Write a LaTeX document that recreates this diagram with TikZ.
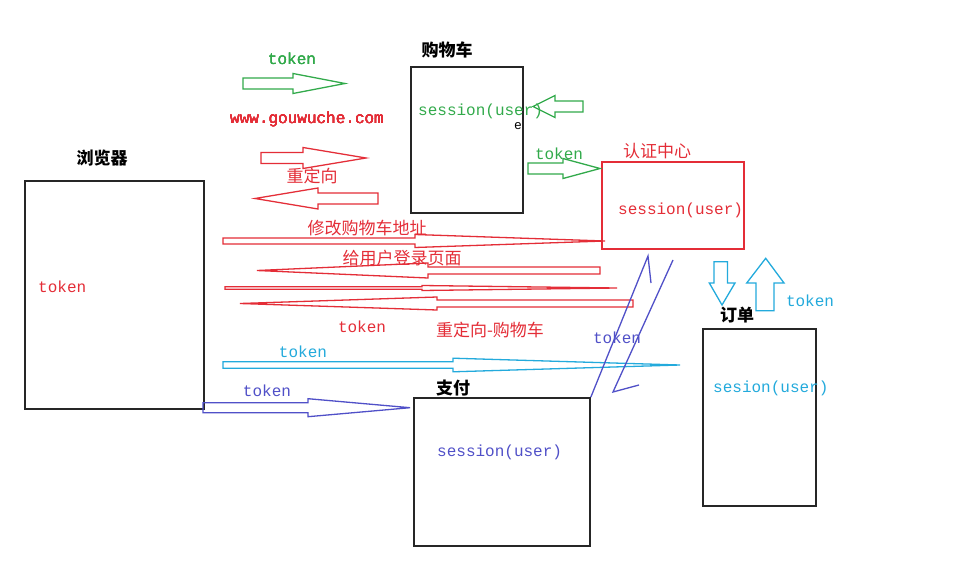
\documentclass[tikz,border=0pt]{standalone}
\usepackage{fontspec}
\setmonofont{Liberation Mono}
\newfontfamily\cjk{Noto Sans CJK SC}
\usetikzlibrary{positioning}

\definecolor{tkgreen}{RGB}{50,170,75}
\definecolor{tkred}{RGB}{228,45,55}
\definecolor{tkcyan}{RGB}{35,170,220}
\definecolor{tkpurple}{RGB}{80,80,200}

\tikzset{
    box/.style={draw=black!85, line width=1.6pt, inner sep=0pt},
    mono/.style={font=\ttfamily\fontsize{16}{18}\selectfont, inner sep=0pt},
    zh/.style={font=\cjk\fontsize{17}{20}\selectfont, inner sep=0pt},
    title/.style={font=\cjk\bfseries\fontsize{17}{20}\selectfont, inner sep=0pt},
    hollow/.style={line width=1.3pt, line join=miter}
}

% hollow block arrow: style, tail x, head base x, tip x, y, shaft half, head half
\newcommand{\flatarrow}[7]{%
    \draw[hollow,#1] (#2,#5-#6) -- (#3,#5-#6) -- (#3,#5-#7) -- (#4,#5)
        -- (#3,#5+#7) -- (#3,#5+#6) -- (#2,#5+#6) -- cycle;}

\begin{document}
\begin{tikzpicture}[x=1pt, y=-1pt]
    \useasboundingbox[fill=white] (0,0) rectangle (980,586);

    % Boxes
    \node[box, minimum width=179pt, minimum height=228pt] (browser) at (114.5,295) {};
    \node[box, minimum width=112pt, minimum height=146pt] (cart) at (467,140) {};
    \node[box, draw=tkred, line width=1.4pt, minimum width=142pt, minimum height=87pt] (auth) at (673,205.5) {};
    \node[box, minimum width=176pt, minimum height=148pt] (pay) at (502,472) {};
    \node[box, minimum width=113pt, minimum height=177pt] (order) at (759.5,417.5) {};

    % Box titles
    \node[title] (browsertitle) at (102,158) {浏览器};
    \node[title] (carttitle) at (447,50) {购物车};
    \node[zh, text=tkred] (authtitle) at (657,151) {认证中心};
    \node[title] (paytitle) at (453,388) {支付};
    \node[title] (ordertitle) at (737,315) {订单};

    % Texts inside the boxes
    \node[mono, text=tkred, anchor=west] (browsertoken) at (38,287) {token};
    \node[mono, text=tkgreen, anchor=west] (cartsession) at (418,111) {session(user)};
    \node[mono, text=tkred, anchor=west] (authsession) at (618,210) {session(user)};
    \node[mono, text=tkpurple, anchor=west] (paysession) at (437,452) {session(user)};
    \node[mono, text=tkcyan, anchor=west] (ordersession) at (713,388) {sesion(user)};
    \node[font=\ttfamily\fontsize{13}{13}\selectfont, inner sep=0pt] (cartmark) at (518,126) {e};

    % Green arrows
    \foreach \a/\b/\t/\y/\s/\h in {243/293/345/83.5/5.5/10, 583/555/533/106.5/5.5/11, 528/563/600/168.5/5.5/10}
        \flatarrow{tkgreen}{\a}{\b}{\t}{\y}{\s}{\h}
    \node[mono, text=tkgreen] (gtoken1) at (292,59) {token};
    \node[mono, text=tkgreen] (gtoken2) at (559,154) {token};

    % Red arrows
    \foreach \a/\b/\t/\y/\s/\h in {261/303/366/158/5.5/10.5, 378/318/255/198.5/5.5/10.5,
        223/415/605/241/3/6.5, 600/428/257/270.5/3.5/7.5, 225/422/617/288/1.2/2.5, 633/437/240/303.5/3.5/6.5}
        \flatarrow{tkred}{\a}{\b}{\t}{\y}{\s}{\h}
    \node[mono, text=tkred, anchor=west] (www) at (230,119) {www.gouwuche.com};
    \node[zh, text=tkred] (redirect) at (312,176) {重定向};
    \node[zh, text=tkred] (changeaddr) at (367,228) {修改购物车地址};
    \node[zh, text=tkred] (loginpage) at (402,258) {给用户登录页面};
    \node[mono, text=tkred] (rtoken) at (362,327) {token};
    \node[zh, text=tkred] (redirectcart) at (490,330) {重定向-购物车};

    % Cyan arrows
    \flatarrow{tkcyan}{223}{453}{680}{365}{3.3}{6.8}
    \draw[hollow, tkcyan] (714,261.7) -- (727.4,261.7) -- (727.4,283) -- (735,283) -- (722,305)
        -- (709.3,283) -- (714,283) -- cycle;
    \draw[hollow, tkcyan] (756,310.7) -- (774,310.7) -- (774,283) -- (784,283) -- (765.7,258.3)
        -- (746.7,283) -- (756,283) -- cycle;
    \node[mono, text=tkcyan] (ctoken1) at (303,352) {token};
    \node[mono, text=tkcyan] (ctoken2) at (810,301) {token};

    % Purple arrows
    \flatarrow{tkpurple}{203}{308}{410}{407.7}{5}{9}
    \node[mono, text=tkpurple] (ptoken1) at (267,391) {token};
    \node[mono, text=tkpurple] (ptoken2) at (617,338) {token};
    \coordinate (up1) at (648,256);
    \coordinate (up2) at (651,283);
    \coordinate (down1) at (673,260);
    \coordinate (down2) at (613,392);
    \coordinate (down3) at (639,385);
    \draw[tkpurple, line width=1.3pt] (pay.north east) -- (up1) -- (up2);
    \draw[tkpurple, line width=1.3pt] (down1) -- (down2) -- (down3);
\end{tikzpicture}
\end{document}
